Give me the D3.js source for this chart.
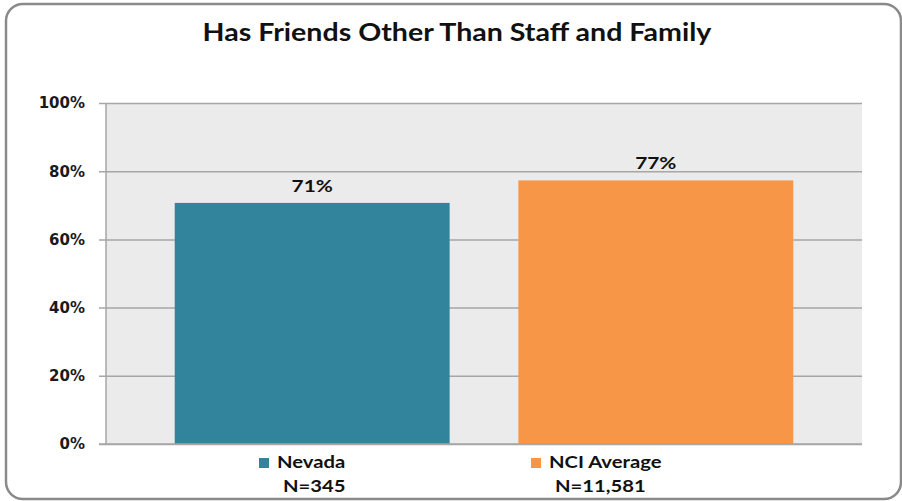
<!DOCTYPE html>
<html>
<head>
<meta charset="utf-8">
<script src="https://cdn.jsdelivr.net/npm/d3@7"></script>
<style>
  html, body { margin: 0; padding: 0; background: #ffffff; }
  svg { display: block; }
</style>
</head>
<body>
<script>
// ---- Data ----
const title = "Has Friends Other Than Staff and Family";
const categories = ["Nevada", "NCI Average"];
const values = [70.7, 77.3];
const valueLabels = ["71%", "77%"];
const sampleSizes = ["N=345", "N=11,581"];
const colors = ["#31849B", "#F79646"];
const yTicks = [0, 20, 40, 60, 80, 100];

// ---- Layout ----
const W = 902, H = 501;
const plot = { left: 106, right: 862, top: 103, bottom: 444 };
const labelFont = "Lato, 'Open Sans', sans-serif";
const tickFont = "'DejaVu Sans', Verdana, sans-serif";

const svg = d3.select("body").append("svg")
  .attr("width", W).attr("height", H);

// frame
svg.append("rect")
  .attr("x", 6).attr("y", 4)
  .attr("width", 895).attr("height", 495)
  .attr("rx", 17).attr("ry", 17)
  .attr("fill", "#ffffff")
  .attr("stroke", "#8a8a8a")
  .attr("stroke-width", 2.5);

// scales
const x = d3.scaleBand().domain(categories)
  .range([plot.left, plot.right])
  .paddingInner(0.2).paddingOuter(0.2);
const y = d3.scaleLinear().domain([0, 100]).range([plot.bottom, plot.top]);

// plot background
svg.append("rect")
  .attr("x", plot.left).attr("y", plot.top)
  .attr("width", plot.right - plot.left)
  .attr("height", plot.bottom - plot.top)
  .attr("fill", "#ebebeb");

// title (measure to derive horizontal stretch)
const titleText = svg.append("text")
  .attr("font-family", labelFont)
  .attr("font-weight", 700)
  .attr("font-size", 24)
  .attr("fill", "#111")
  .attr("text-anchor", "middle")
  .text(title);
const k = 509 / titleText.node().getComputedTextLength();
titleText.attr("transform", `translate(457,41) scale(${k},1)`);

// gridlines + y axis labels
const gridLen = plot.right - (plot.left - 7);
const yAxis = d3.axisLeft(y)
  .tickValues(yTicks)
  .tickSize(gridLen)
  .tickPadding(14)
  .tickFormat(d => d + "%");
const gAxis = svg.append("g")
  .attr("transform", `translate(${plot.right},0)`)
  .call(yAxis);
gAxis.select(".domain").remove();
gAxis.selectAll(".tick line")
  .attr("stroke", "#a6a6a6")
  .attr("stroke-width", 1.5);
gAxis.selectAll(".tick text")
  .attr("font-family", tickFont)
  .attr("font-weight", 700)
  .attr("font-size", 15)
  .attr("fill", "#1a1a1a");

// vertical axis line
svg.append("line")
  .attr("x1", plot.left).attr("x2", plot.left)
  .attr("y1", plot.top).attr("y2", plot.bottom)
  .attr("stroke", "#a6a6a6").attr("stroke-width", 1.5);

// bars
svg.selectAll("rect.bar")
  .data(categories)
  .join("rect")
  .attr("class", "bar")
  .attr("x", d => x(d))
  .attr("width", x.bandwidth())
  .attr("y", (d, i) => y(values[i]))
  .attr("height", (d, i) => y(0) - y(values[i]))
  .attr("fill", (d, i) => colors[i]);

// redraw baseline over bars
svg.append("line")
  .attr("x1", plot.left - 7).attr("x2", plot.right)
  .attr("y1", y(0)).attr("y2", y(0))
  .attr("stroke", "#a6a6a6").attr("stroke-width", 1.5);

// value labels
svg.selectAll("text.vlabel")
  .data(categories)
  .join("text")
  .attr("class", "vlabel")
  .attr("font-family", labelFont)
  .attr("font-weight", 700)
  .attr("font-size", 17.5)
  .attr("fill", "#111")
  .attr("text-anchor", "middle")
  .attr("transform", (d, i) => `translate(${x(d) + x.bandwidth() / 2},${y(values[i]) - 11}) scale(${k},1)`)
  .text((d, i) => valueLabels[i]);

// legend
const legX0 = 259, legStep = 272, legY = 468;
const leg = svg.selectAll("g.leg")
  .data(categories)
  .join("g")
  .attr("class", "leg")
  .attr("transform", (d, i) => `translate(${legX0 + i * legStep},${legY})`);
leg.append("rect")
  .attr("x", 0).attr("y", -10)
  .attr("width", 10).attr("height", 10)
  .attr("fill", (d, i) => colors[i]);
leg.append("text")
  .attr("font-family", labelFont)
  .attr("font-weight", 700)
  .attr("font-size", 17)
  .attr("fill", "#111")
  .attr("transform", `translate(18,0) scale(${k},1)`)
  .text(d => d);
leg.append("text")
  .attr("font-family", labelFont)
  .attr("font-weight", 700)
  .attr("font-size", 17)
  .attr("fill", "#111")
  .attr("transform", `translate(24,24) scale(${k},1)`)
  .text((d, i) => sampleSizes[i]);
</script>
</body>
</html>
